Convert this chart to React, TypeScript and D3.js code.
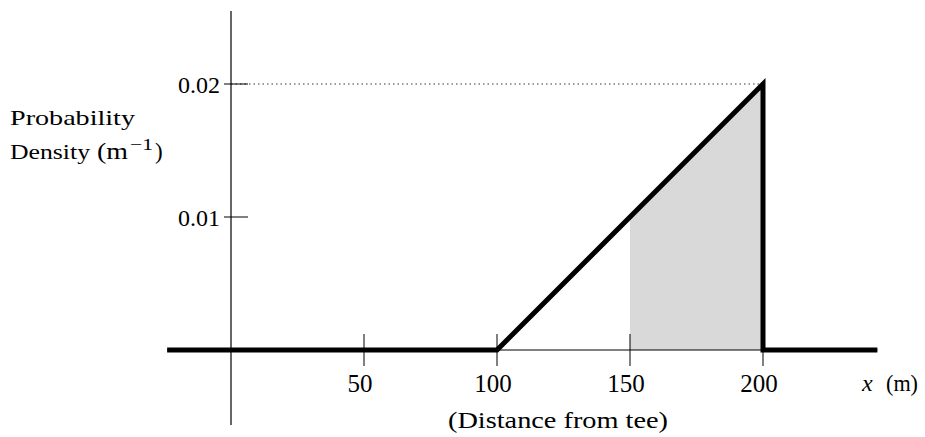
import React from "react";
import * as d3 from "d3";

const densityX = [-24, 100, 200, 200, 243];
const densityY = [0, 0, 0.02, 0, 0];
const shadeX = [150, 200];
const xTicks = [50, 100, 150, 200];
const xTickLabels = ["50", "100", "150", "200"];
const yTicks = [0.01, 0.02];
const yTickLabels = ["0.01", "0.02"];

const W = 925;
const H = 437;
const FONT = "'Liberation Serif', 'DejaVu Serif', serif";

export default function App() {
  const x = d3.scaleLinear().domain([0, 200]).range([231, 763]);
  const y = d3.scaleLinear().domain([0, 0.02]).range([350, 84]);
  const f = (v: number) => (v < 100 ? 0 : v <= 200 ? (v - 100) * 0.0002 : 0);

  const pts: [number, number][] = densityX.map((v, i) => [v, densityY[i]]);
  const line = d3
    .line<[number, number]>()
    .x((d) => x(d[0]))
    .y((d) => y(d[1]));

  const shadePts: [number, number][] = [
    [shadeX[0], f(shadeX[0])],
    [shadeX[1], f(shadeX[1])],
  ];
  const area = d3
    .area<[number, number]>()
    .x((d) => x(d[0]))
    .y0(y(0))
    .y1((d) => y(d[1]));

  return (
    <svg
      width={W}
      height={H}
      style={{ position: "absolute", left: 0, top: 0, background: "#fff" }}
      fontFamily={FONT}
    >
      <path d={area(shadePts) || ""} fill="#d9d9d9" stroke="none" />
      <line x1={x(-24)} x2={x(243)} y1={y(0)} y2={y(0)} stroke="#000" strokeWidth={1} />
      <line x1={x(0)} x2={x(0)} y1={11} y2={425} stroke="#000" strokeWidth={1.2} />
      <line
        x1={x(0)}
        x2={x(200)}
        y1={y(0.02)}
        y2={y(0.02)}
        stroke="#000"
        strokeWidth={0.8}
        strokeDasharray="1.5,3"
      />
      {xTicks.map((t, i) => (
        <g key={t}>
          <line x1={x(t)} x2={x(t)} y1={y(0) - 16} y2={y(0) + 16} stroke="#000" strokeWidth={1} />
          <text x={x(t) - 4} y={392} textAnchor="middle" fontSize={25}>
            {xTickLabels[i]}
          </text>
        </g>
      ))}
      {yTicks.map((t, i) => (
        <g key={t}>
          <line x1={x(0) - 7} x2={x(0) + 17} y1={y(t)} y2={y(t)} stroke="#000" strokeWidth={1} />
          <text x={220} y={y(t) + 9} textAnchor="end" fontSize={24}>
            {yTickLabels[i]}
          </text>
        </g>
      ))}
      <path
        d={line(pts) || ""}
        fill="none"
        stroke="#000"
        strokeWidth={5}
        strokeLinejoin="miter"
        strokeMiterlimit={10}
      />
      <text x={10} y={125} fontSize={22} textLength={125} lengthAdjust="spacingAndGlyphs">
        Probability
      </text>
      <text x={10} y={159} fontSize={22} textLength={80} lengthAdjust="spacingAndGlyphs">
        Density
      </text>
      <text x={97} y={159} fontSize={23} textLength={31} lengthAdjust="spacingAndGlyphs">
        (m
      </text>
      <text x={130} y={150} fontSize={16} textLength={23} lengthAdjust="spacingAndGlyphs">
        −1
      </text>
      <text x={155} y={159} fontSize={23}>
        )
      </text>
      <text x={862} y={391} fontSize={24}>
        <tspan fontStyle="italic">x</tspan>
      </text>
      <text x={886} y={391} fontSize={24} textLength={32} lengthAdjust="spacingAndGlyphs">
        (m)
      </text>
      <text x={448} y={428} fontSize={23} textLength={220} lengthAdjust="spacingAndGlyphs">
        (Distance from tee)
      </text>
    </svg>
  );
}
